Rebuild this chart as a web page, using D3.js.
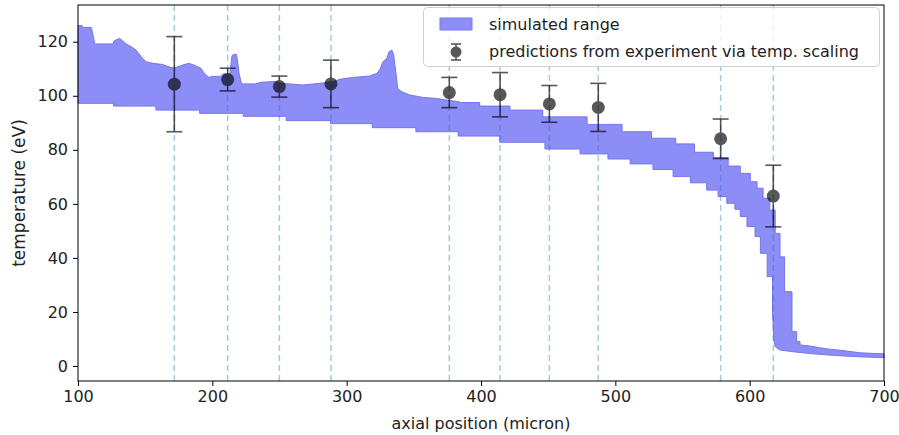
<!DOCTYPE html>
<html>
<head>
<meta charset="utf-8">
<script src="https://cdn.jsdelivr.net/npm/d3@7/dist/d3.min.js"></script>
<style>
  html, body { margin: 0; padding: 0; background: #fff; }
  svg { display: block; font-family: "DejaVu Sans", sans-serif; }
</style>
</head>
<body>
<svg id="chart" width="899" height="435"></svg>
<script>
// Upper edge of the simulated temperature band (axial position in micron, T in eV)
const upperX = [100, 103, 103.5, 110, 112.5, 126, 127, 129, 131, 133, 136, 139.5, 143, 147, 150.6, 156, 163, 167, 171.5, 178, 182.6, 186, 191.5, 194, 197.5, 200, 206, 208, 213, 214.5, 215.5, 218, 219, 220, 221.8, 232, 236, 247, 252, 267.5, 280, 290, 295, 304.7, 317, 322.6, 324.8, 327, 330, 331.5, 333.7, 335, 336.7, 338, 341, 347, 357, 367, 374.7, 384, 384, 399, 399, 421.6, 421.6, 446, 446, 479, 479, 505, 505, 527, 527, 545, 545, 559, 559, 573, 573, 584, 584, 593, 593, 600.5, 600.5, 605.5, 605.5, 610, 610, 615, 615, 619, 619, 622.6, 622.6, 626, 626, 631.5, 631.5, 635, 635, 637.5, 637.5, 645, 652, 660, 669.5, 682, 690, 700];
const upperT = [126.0, 126.0, 125.3, 125.3, 119.2, 119.2, 120.4, 120.8, 121.3, 120.4, 119.2, 118.2, 117.0, 114.5, 112.6, 112.0, 111.6, 110.8, 110.2, 111.4, 112.0, 111.4, 110.2, 108.3, 106.8, 107.2, 107.2, 108.1, 108.1, 114.5, 115.3, 115.3, 112.0, 108.0, 104.4, 104.4, 105.0, 105.3, 104.6, 104.0, 104.6, 105.3, 106.1, 106.8, 107.3, 108.3, 109.8, 112.6, 113.9, 116.3, 116.9, 115.1, 108.3, 102.7, 101.5, 100.3, 99.4, 99.0, 98.4, 97.8, 97.5, 97.5, 96.2, 96.2, 94.7, 94.7, 92.2, 92.2, 89.4, 89.4, 86.7, 86.7, 84.3, 84.3, 82.2, 82.2, 79.1, 79.1, 77.1, 77.1, 74.0, 74.0, 71.3, 71.3, 68.2, 68.2, 65.8, 65.8, 62.1, 62.1, 57.7, 57.7, 49.1, 49.1, 40.4, 40.4, 27.5, 27.5, 12.7, 12.7, 9.0, 9.0, 7.8, 7.4, 6.8, 6.2, 5.7, 4.9, 4.7, 4.5];

// Lower edge of the simulated temperature band
const lowerX = [100, 126.5, 126.5, 158, 158, 190.5, 190.5, 223, 223, 255, 255, 288, 288, 319, 319, 351.5, 351.5, 383, 383, 414, 414, 447.6, 447.6, 473.7, 473.7, 494.5, 494.5, 511, 511, 528, 528, 543, 543, 556, 556, 568, 568, 576.5, 576.5, 583, 583, 589, 589, 593, 593, 598, 598, 604, 604, 608, 608, 613, 613, 617, 617, 618, 619, 622.6, 632, 645, 657.6, 670, 682, 700];
const lowerT = [97.2, 97.2, 96.2, 96.2, 94.7, 94.7, 93.5, 93.5, 92.4, 92.4, 90.8, 90.8, 89.7, 89.7, 88.2, 88.2, 86.7, 86.7, 85.1, 85.1, 82.8, 82.8, 80.3, 80.3, 78.5, 78.5, 76.6, 76.6, 74.8, 74.8, 72.7, 72.7, 70.1, 70.1, 67.8, 67.8, 65.1, 65.1, 62.7, 62.7, 60.2, 60.2, 58.0, 58.0, 55.3, 55.3, 51.6, 51.6, 47.9, 47.9, 41.7, 41.7, 33.1, 33.1, 20.7, 9.6, 7.1, 5.9, 5.3, 4.6, 4.1, 3.7, 3.4, 3.1];

// Temperatures inferred from experiment via temperature scaling
const probeX = [171.7, 211.4, 249.9, 288.3, 376.4, 414.2, 450.9, 487.3, 578.4, 617.6];
const probeT = [104.3, 106.0, 103.4, 104.4, 101.2, 100.4, 97.0, 95.7, 84.1, 62.9];
const probeErr = [17.6, 4.2, 3.9, 8.8, 5.6, 8.2, 6.8, 8.9, 7.3, 11.4];

const xTicks = [100, 200, 300, 400, 500, 600, 700];
const yTicks = [0, 20, 40, 60, 80, 100, 120];

const legendLabels = ["simulated range", "predictions from experiment via temp. scaling"];

const svg = d3.select("#chart");
const plot = { left: 78, right: 884, top: 5, bottom: 381 };
const fontSize = 16;

const x = d3.scaleLinear().domain([100, 700]).range([plot.left, plot.right]);
const y = d3.scaleLinear().domain([-5.55, 133.6]).range([plot.bottom, plot.top]);

const bandFill = "#8d8df7";
const bandEdge = "#7676ef";

// Simulated band: upper edge forward, lower edge back
const upperPts = upperX.map((d, i) => [d, upperT[i]]);
const lowerPts = lowerX.map((d, i) => [d, lowerT[i]]).reverse();
const edge = d3.line().x(d => x(d[0])).y(d => y(d[1]));

svg.append("path")
  .attr("d", edge(upperPts.concat(lowerPts)) + "Z")
  .attr("fill", bandFill)
  .attr("stroke", bandEdge)
  .attr("stroke-width", 1);

// Probe positions
svg.append("g").selectAll("line")
  .data(probeX)
  .join("line")
  .attr("x1", d => x(d)).attr("x2", d => x(d))
  .attr("y1", plot.top).attr("y2", plot.bottom)
  .attr("stroke", "#1f77b4")
  .attr("stroke-opacity", 0.4)
  .attr("stroke-width", 1.5)
  .attr("stroke-dasharray", "6,4");

// Error bars with markers
const bars = svg.append("g");
probeX.forEach((px, i) => {
  const g = bars.append("g").attr("opacity", 0.65);
  const cx = x(px);
  const top = y(probeT[i] + probeErr[i]);
  const bot = y(probeT[i] - probeErr[i]);
  g.append("line").attr("x1", cx).attr("x2", cx).attr("y1", top).attr("y2", bot)
    .attr("stroke", "#000").attr("stroke-width", 1.6);
  [top, bot].forEach(cy => {
    g.append("line").attr("x1", cx - 8).attr("x2", cx + 8).attr("y1", cy).attr("y2", cy)
      .attr("stroke", "#000").attr("stroke-width", 1.6);
  });
  g.append("circle").attr("cx", cx).attr("cy", y(probeT[i])).attr("r", 6.5).attr("fill", "#000");
});

// Frame
svg.append("rect")
  .attr("x", plot.left).attr("y", plot.top)
  .attr("width", plot.right - plot.left).attr("height", plot.bottom - plot.top)
  .attr("fill", "none").attr("stroke", "#000").attr("stroke-width", 1);

// Axes
const xAxis = svg.append("g")
  .attr("transform", `translate(0,${plot.bottom})`)
  .call(d3.axisBottom(x).tickValues(xTicks).tickSize(5).tickPadding(5).tickFormat(d3.format("d")));
const yAxis = svg.append("g")
  .attr("transform", `translate(${plot.left},0)`)
  .call(d3.axisLeft(y).tickValues(yTicks).tickSize(5).tickPadding(5).tickFormat(d3.format("d")));
[xAxis, yAxis].forEach(a => {
  a.select(".domain").remove();
  a.selectAll("text").attr("font-size", fontSize).attr("fill", "#222").attr("font-family", "DejaVu Sans");
  a.selectAll("line").attr("stroke", "#000");
});

svg.append("text")
  .attr("x", (plot.left + plot.right) / 2).attr("y", 429)
  .attr("text-anchor", "middle").attr("font-size", fontSize).attr("fill", "#222")
  .text("axial position (micron)");

svg.append("text")
  .attr("transform", `translate(25,${(plot.top + plot.bottom) / 2}) rotate(-90)`)
  .attr("text-anchor", "middle").attr("font-size", fontSize + 1).attr("fill", "#222")
  .text("temperature (eV)");

// Legend
const lg = svg.append("g");
lg.append("rect")
  .attr("x", 423.5).attr("y", 7.5).attr("width", 456).attr("height", 59).attr("rx", 4)
  .attr("fill", "#fff").attr("fill-opacity", 0.8)
  .attr("stroke", "#d0d0d0").attr("stroke-width", 1);
lg.append("rect")
  .attr("x", 440).attr("y", 18).attr("width", 32).attr("height", 12)
  .attr("fill", bandFill).attr("stroke", bandEdge).attr("stroke-width", 1);
const lm = lg.append("g").attr("opacity", 0.65);
lm.append("line").attr("x1", 456).attr("x2", 456).attr("y1", 44).attr("y2", 60).attr("stroke", "#000").attr("stroke-width", 1.6);
[44, 60].forEach(cy => lm.append("line").attr("x1", 451).attr("x2", 461).attr("y1", cy).attr("y2", cy).attr("stroke", "#000").attr("stroke-width", 1.6));
lm.append("circle").attr("cx", 456).attr("cy", 52).attr("r", 5.5).attr("fill", "#000");
lg.selectAll("text.lbl")
  .data(legendLabels)
  .join("text")
  .attr("class", "lbl")
  .attr("x", 489)
  .attr("y", (d, i) => 30 + i * 27)
  .attr("font-size", fontSize).attr("fill", "#222")
  .text(d => d);
</script>
</body>
</html>
